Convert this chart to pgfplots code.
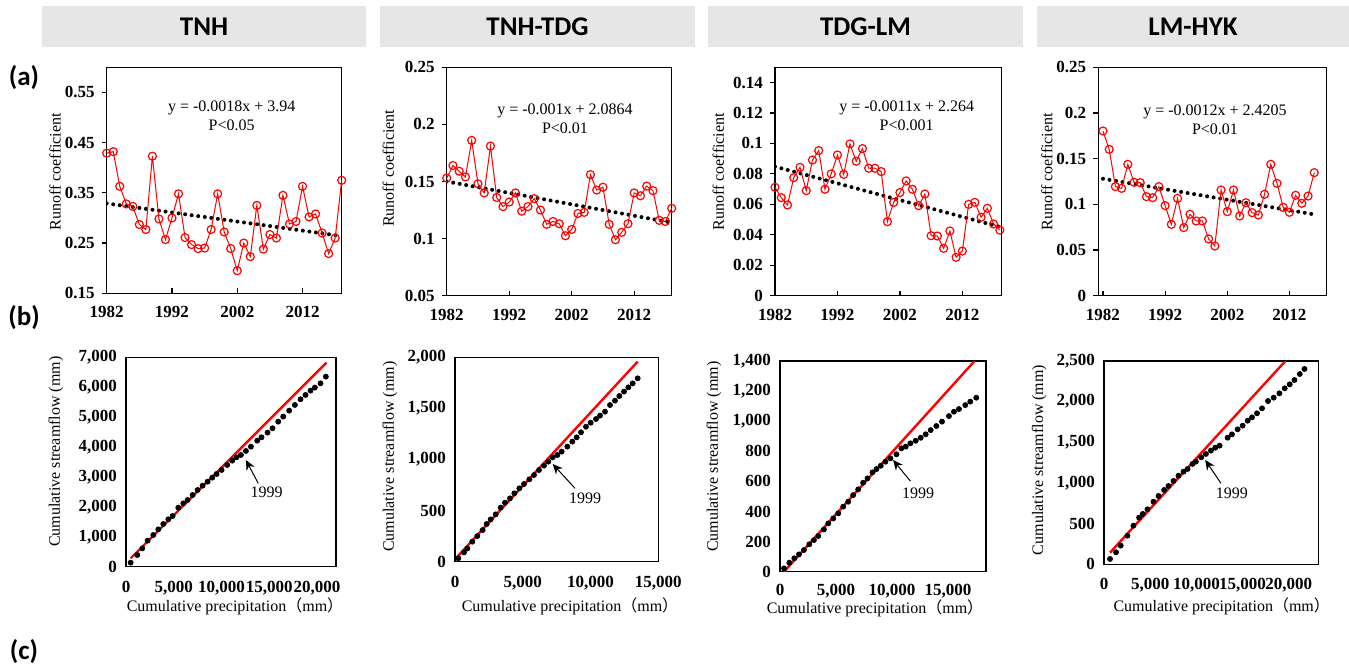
\documentclass[border=0pt]{standalone}
\usepackage{pgfplots}
\pgfplotsset{compat=1.18}
\usepackage{fontspec}
\setmainfont{Liberation Serif}
\newfontfamily\calibri{Carlito}
\newfontfamily\cjk{Noto Sans CJK SC}
\usetikzlibrary{arrows.meta}
\definecolor{hdr}{RGB}{231,230,230}

\pgfplotstableread{
x y
1982 0.429
1983 0.432
1984 0.363
1985 0.328
1986 0.323
1987 0.287
1988 0.277
1989 0.423
1990 0.298
1991 0.257
1992 0.300
1993 0.348
1994 0.261
1995 0.247
1996 0.239
1997 0.240
1998 0.277
1999 0.348
2000 0.272
2001 0.239
2002 0.195
2003 0.250
2004 0.223
2005 0.325
2006 0.238
2007 0.267
2008 0.260
2009 0.345
2010 0.288
2011 0.293
2012 0.363
2013 0.302
2014 0.308
2015 0.270
2016 0.229
2017 0.260
2018 0.375
}\tA

\pgfplotstableread{
x y
1982 0.153
1983 0.164
1984 0.159
1985 0.154
1986 0.186
1987 0.148
1988 0.140
1989 0.181
1990 0.136
1991 0.128
1992 0.132
1993 0.140
1994 0.124
1995 0.128
1996 0.135
1997 0.125
1998 0.1125
1999 0.115
2000 0.113
2001 0.1025
2002 0.108
2003 0.122
2004 0.123
2005 0.156
2006 0.1425
2007 0.145
2008 0.1125
2009 0.099
2010 0.1055
2011 0.113
2012 0.140
2013 0.1375
2014 0.146
2015 0.142
2016 0.116
2017 0.115
2018 0.1265
}\tB

\pgfplotstableread{
x y
1982 0.0712
1983 0.0644
1984 0.0596
1985 0.0775
1986 0.0843
1987 0.0690
1988 0.0891
1989 0.0953
1990 0.0699
1991 0.0800
1992 0.0924
1993 0.0797
1994 0.0997
1995 0.0883
1996 0.0966
1997 0.0837
1998 0.0837
1999 0.0815
2000 0.0486
2001 0.0613
2002 0.0677
2003 0.0754
2004 0.0699
2005 0.0591
2006 0.0668
2007 0.0394
2008 0.0392
2009 0.0311
2010 0.0425
2011 0.0252
2012 0.0293
2013 0.0600
2014 0.0613
2015 0.0515
2016 0.0574
2017 0.0471
2018 0.0431
}\tC

\pgfplotstableread{
x y
1982 0.1803
1983 0.1602
1984 0.1194
1985 0.1175
1986 0.1438
1987 0.1241
1988 0.1237
1989 0.1084
1990 0.1073
1991 0.1194
1992 0.0986
1993 0.0781
1994 0.1066
1995 0.0745
1996 0.0891
1997 0.0818
1998 0.0818
1999 0.0621
2000 0.0544
2001 0.1157
2002 0.0920
2003 0.1157
2004 0.0872
2005 0.1018
2006 0.0909
2007 0.0883
2008 0.1110
2009 0.1438
2010 0.1230
2011 0.0967
2012 0.0913
2013 0.1099
2014 0.1011
2015 0.1091
2016 0.1347
}\tD

\pgfplotstableread{
x y
489 134
1186 390
1710 613
2268 870
2861 1059
3385 1249
3908 1427
4432 1583
4885 1695
5478 1973
6002 2118
6455 2230
6978 2397
7502 2564
8025 2709
8548 2843
9037 2977
9491 3099
10014 3233
10607 3400
11131 3545
11584 3657
12038 3735
12561 3869
13085 4013
13748 4214
14201 4326
14829 4482
15352 4627
15945 4849
16469 5017
17097 5217
17690 5407
18283 5597
18806 5741
19330 5886
19784 5987
20377 6131
20935 6354
}\sA

\pgfplotstableread{
x y
246 33
664 91
910 130
1279 196
1648 251
2041 310
2336 369
2631 414
3000 463
3369 529
3689 578
4058 620
4378 669
4747 718
5091 760
5485 806
5829 848
6198 897
6567 940
6887 979
7206 1021
7551 1044
7870 1077
8288 1126
8657 1175
8977 1217
9296 1266
9665 1321
10010 1360
10403 1396
10698 1429
11067 1468
11436 1533
11805 1576
12125 1621
12469 1664
12789 1706
13109 1745
13478 1794
}\sB

\pgfplotstableread{
x y
357 22
832 60
1278 89
1693 115
2139 144
2614 182
3030 210
3416 237
3922 281
4308 321
4754 354
5199 388
5645 432
6090 465
6536 509
6982 547
7427 591
7813 620
8259 660
8616 682
9002 704
9418 731
9863 753
10398 780
10844 820
11230 831
11646 853
12121 870
12567 890
13012 913
13458 941
13963 968
14468 997
15092 1034
15537 1063
15983 1081
16548 1107
16993 1130
17528 1156
}\sC

\pgfplotstableread{
x y
651 66
1302 148
1808 230
2532 352
3183 475
3797 574
4195 619
4702 676
5353 770
5895 840
6510 914
6980 963
7523 1025
8065 1090
8608 1139
9042 1172
9584 1234
9946 1262
10524 1316
11031 1357
11573 1398
12043 1434
12514 1459
13382 1557
13852 1598
14467 1660
15009 1705
15552 1766
16022 1807
16564 1857
17107 1918
17758 2008
18373 2049
18987 2102
19566 2164
20108 2213
20615 2266
21193 2340
21700 2402
}\sD

\pgfplotsset{
  base/.style={
    scale only axis, anchor=north west, clip mode=individual,
    axis line style={line width=0.7pt},
    every tick/.style={black, line width=0.6pt},
    xtick pos=lower, ytick pos=left,
    tick label style={font=\fontsize{8.5}{9}\selectfont\bfseries},
    /pgf/number format/assume math mode=true,
    scaled ticks=false,
  },
  rowa/.style={base,
    xtick={1982,1992,2002,2012},
    xtick align=inside, ytick align=outside,
    major tick length=2.5pt,
    xticklabel style={/pgf/number format/1000 sep={}, yshift=-3pt},
    yticklabel style={/pgf/number format/fixed, /pgf/number format/precision=2},
  },
  rowb/.style={base,
    major tick length=0pt,
    xticklabel style={/pgf/number format/fixed, /pgf/number format/1000 sep={,}, yshift=-3.5pt},
    yticklabel style={/pgf/number format/fixed, /pgf/number format/1000 sep={,}, xshift=-1pt},
  },
  rc/.style={red, line width=0.5pt, mark=o, mark size=2pt, mark options={line width=0.6pt}},
  tr/.style={black, line width=2pt, line cap=round, dash pattern=on 0pt off 3.3pt},
  dots/.style={only marks, mark=*, mark size=1.25pt, black},
  rl/.style={red, line width=1.2pt},
}

\begin{document}
\begin{tikzpicture}
\begin{scope}[x=0.5pt,y=-0.5pt]
  \path (0,0) rectangle (1349,669);
  \coordinate (A1) at (106.7,67.3);
  \coordinate (A2) at (446.7,67.3);
  \coordinate (A3) at (775,67.3);
  \coordinate (A4) at (1098.3,67.3);
  \coordinate (B1) at (126,357.3);
  \coordinate (B2) at (455,357.3);
  \coordinate (B3) at (780,361);
  \coordinate (B4) at (1104,361);
  \fill[hdr] (42,6) rectangle (366,47);
  \fill[hdr] (380,6) rectangle (695,47);
  \fill[hdr] (708,6) rectangle (1023,47);
  \fill[hdr] (1037,6) rectangle (1349,47);
  \begin{scope}[every node/.style={font=\calibri\bfseries\fontsize{13.5}{15}\selectfont}]
    \node at (204,27) {TNH};
    \node at (537.5,27) {TNH-TDG};
    \node at (865.5,27) {TDG-LM};
    \node at (1193,27) {LM-HYK};
    \node at (24,78) {(a)};
    \node at (24,318) {(b)};
    \node at (24,652) {(c)};
  \end{scope}
\end{scope}

% ---- row (a)
\begin{axis}[rowa, at={(A1)}, width=117.5pt, height=113pt,
  xmin=1982, xmax=2018, ymin=0.15, ymax=0.6,
  ytick={0.15,0.25,0.35,0.45,0.55}]
  \addplot[tr] coordinates {(1982,0.329) (2018,0.264)};
  \addplot[rc] table {\tA};
\end{axis}
\begin{axis}[rowa, at={(A2)}, width=112.5pt, height=114.2pt,
  xmin=1982, xmax=2018, ymin=0.05, ymax=0.25,
  ytick={0.05,0.1,0.15,0.2,0.25}]
  \addplot[tr] coordinates {(1982,0.150) (2018,0.114)};
  \addplot[rc] table {\tB};
\end{axis}
\begin{axis}[rowa, at={(A3)}, width=113.35pt, height=114.2pt,
  xmin=1982, xmax=2018.3, ymin=0, ymax=0.15,
  ytick={0,0.02,0.04,0.06,0.08,0.1,0.12,0.14}]
  \addplot[tr] coordinates {(1982,0.0848) (2018,0.0452)};
  \addplot[rc] table {\tC};
\end{axis}
\begin{axis}[rowa, at={(A4)}, width=114.2pt, height=114.2pt,
  xmin=1981.25, xmax=2018, ymin=0, ymax=0.25,
  ytick={0,0.05,0.1,0.15,0.2,0.25}]
  \addplot[tr] coordinates {(1982,0.128) (2016,0.089)};
  \addplot[rc] table {\tD};
\end{axis}

% ---- row (b)
\begin{axis}[rowb, at={(B1)}, width=105pt, height=104.7pt,
  xmin=0, xmax=22000, ymin=0, ymax=7000,
  xtick={0,5000,10000,15000,20000},
  ytick={0,1000,2000,3000,4000,5000,6000,7000}]
  \addplot[rl] coordinates {(489,279) (21005,6823)};
  \addplot[dots] table {\sA};
  \draw[-{Stealth[length=5pt,width=4.5pt]}, line width=0.5pt] (axis cs:13852,2787) -- (axis cs:12561,3567);
  \node[font=\fontsize{8}{9}\selectfont] at (axis cs:14724,2475) {1999};
\end{axis}
\begin{axis}[rowb, at={(B2)}, width=101.65pt, height=102.2pt,
  xmin=0, xmax=15000, ymin=0, ymax=2000,
  xtick={0,5000,10000,15000},
  ytick={0,500,1000,1500,2000}]
  \addplot[rl] coordinates {(172,49) (13478,1958)};
  \addplot[dots] table {\sB};
  \draw[-{Stealth[length=5pt,width=4.5pt]}, line width=0.5pt] (axis cs:8854,718) -- (axis cs:7206,956);
  \node[font=\fontsize{8}{9}\selectfont] at (axis cs:9592,620) {1999};
\end{axis}
\begin{axis}[rowb, at={(B3)}, width=103pt, height=105.35pt,
  xmin=0, xmax=18400, ymin=0, ymax=1400,
  xtick={0,5000,10000,15000},
  xticklabel style={yshift=1pt},
  ytick={0,200,400,600,800,1000,1200,1400}]
  \addplot[rl] coordinates {(357,0) (17379,1400)};
  \addplot[dots] table {\sC};
  \draw[-{Stealth[length=5pt,width=4.5pt]}, line width=0.5pt] (axis cs:11646,602) -- (axis cs:10101,742);
  \node[font=\fontsize{8}{9}\selectfont] at (axis cs:12329,520) {1999};
\end{axis}
\begin{axis}[rowb, at={(B4)}, width=107.15pt, height=101.65pt,
  xmin=0, xmax=23200, ymin=0, ymax=2500,
  xtick={0,5000,10000,15000,20000},
  ytick={0,500,1000,1500,2000,2500}]
  \addplot[rl] coordinates {(651,143) (19638,2500)};
  \addplot[dots] table {\sD};
  \draw[-{Stealth[length=5pt,width=4.5pt]}, line width=0.5pt] (axis cs:12658,996) -- (axis cs:10958,1283);
  \node[font=\fontsize{8}{9}\selectfont] at (axis cs:13852,873) {1999};
\end{axis}

% ---- labels
\begin{scope}[x=0.5pt,y=-0.5pt, every node/.style={font=\fontsize{8}{9.5}\selectfont}]
  \node[rotate=90] at (55,171.7) {Runoff coefficient};
  \node[rotate=90] at (388.3,168.3) {Runoff coefficient};
  \node[rotate=90] at (718.3,171.7) {Runoff coefficient};
  \node[rotate=90] at (1046.7,171.7) {Runoff coefficient};
  \node[align=center] at (231.7,115.5) {y = -0.0018x + 3.94\\P<0.05};
  \node[align=center] at (565,118.5) {y = -0.001x + 2.0864\\P<0.01};
  \node[align=center] at (906.7,115.5) {y = -0.0011x + 2.264\\P<0.001};
  \node[align=center] at (1215,119.5) {y = -0.0012x + 2.4205\\P<0.01};
  \node[rotate=90] at (56,451.7) {Cumulative streamflow (mm)};
  \node[rotate=90] at (390,456.7) {Cumulative streamflow (mm)};
  \node[rotate=90] at (714,456.7) {Cumulative streamflow (mm)};
  \node[rotate=90] at (1039.3,460) {Cumulative streamflow (mm)};
  \node at (235,606) {Cumulative precipitation{\cjk （}mm{\cjk ）}};
  \node at (570,606) {Cumulative precipitation{\cjk （}mm{\cjk ）}};
  \node at (875,608.5) {Cumulative precipitation{\cjk （}mm{\cjk ）}};
  \node at (1221.7,606.7) {Cumulative precipitation{\cjk （}mm{\cjk ）}};
\end{scope}
\end{tikzpicture}
\end{document}
